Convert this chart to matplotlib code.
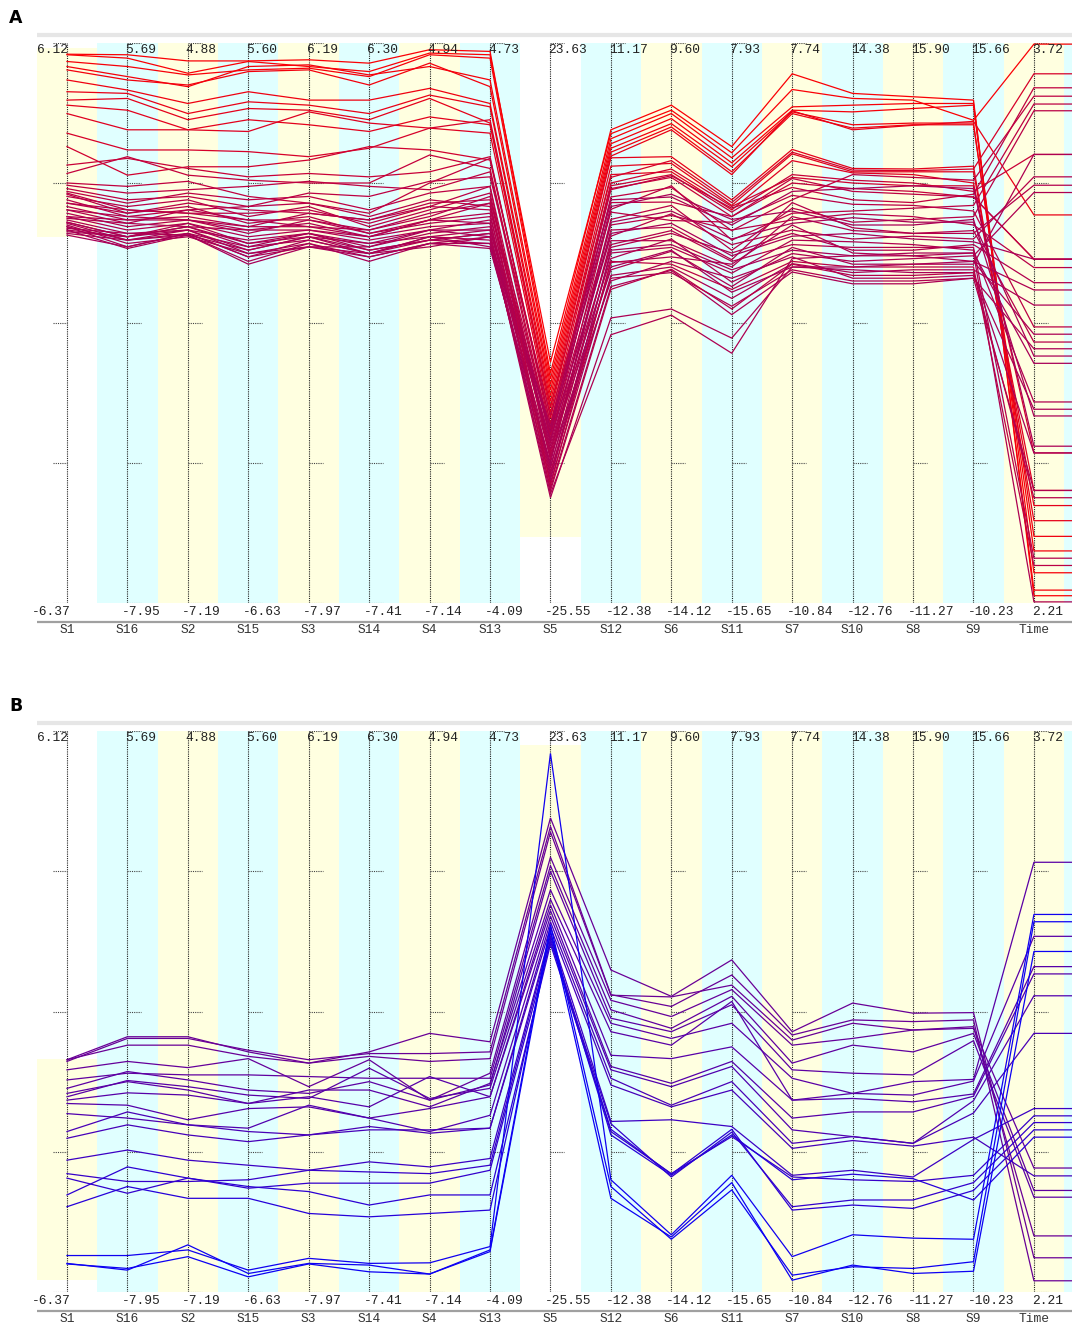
import matplotlib.pyplot as plt
from matplotlib.patches import Rectangle
from matplotlib.colors import LinearSegmentedColormap

axis_names = ['S1', 'S16', 'S2', 'S15', 'S3', 'S14', 'S4', 'S13', 'S5',
              'S12', 'S6', 'S11', 'S7', 'S10', 'S8', 'S9', 'Time']
axis_max = ['6.12', '5.69', '4.88', '5.60', '6.19', '6.30', '4.94', '4.73', '23.63',
            '11.17', '9.60', '7.93', '7.74', '14.38', '15.90', '15.66', '3.72']
axis_min = ['-6.37', '-7.95', '-7.19', '-6.63', '-7.97', '-7.41', '-7.14', '-4.09', '-25.55',
            '-12.38', '-14.12', '-15.65', '-10.84', '-12.76', '-11.27', '-10.23', '2.21']

# brushed ranges (% of axis span) on S1 and S5, other axes fully shaded
a_brush = {0: (65.4, 99.1), 8: (11.8, 39.8)}
b_brush = {0: (2.1, 41.5), 8: (66.3, 97.5)}

# each line: position on every axis, in % of that axis' min..max span
# order: S1 S16 S2 S15 S3 S14 S4 S13 S5 S12 S6 S11 S7 S10 S8 S9 Time
a_lines = [
    [98.0, 97.9, 96.8, 96.8, 97.0, 96.4, 98.8, 98.5, 41.0, 84.5, 88.9, 81.5, 94.5, 91.0, 90.4, 89.8, 1.3],
    [97.9, 97.3, 94.6, 96.7, 95.8, 94.9, 98.2, 97.9, 43.0, 83.8, 88.0, 80.4, 91.7, 90.1, 89.8, 86.2, 99.8],
    [96.7, 95.8, 94.3, 95.2, 95.5, 94.0, 97.9, 97.3, 40.0, 82.9, 87.4, 79.5, 88.6, 88.9, 89.2, 89.2, 5.4],
    [95.8, 94.0, 92.2, 95.8, 96.1, 94.3, 95.8, 93.4, 39.0, 82.0, 86.5, 78.6, 88.0, 87.7, 88.3, 88.9, 2.3],
    [95.2, 93.4, 92.5, 94.9, 95.2, 92.5, 96.4, 92.2, 38.0, 81.2, 85.6, 77.9, 87.7, 85.4, 85.7, 85.7, 9.3],
    [93.4, 91.6, 89.2, 91.3, 89.8, 89.8, 91.9, 89.2, 37.0, 80.5, 85.0, 77.0, 87.4, 84.8, 85.4, 85.4, 11.9],
    [91.3, 91.0, 87.4, 89.5, 88.9, 87.4, 90.7, 88.6, 36.0, 79.8, 84.5, 76.5, 87.9, 84.5, 85.3, 86.0, 69.3],
    [89.8, 90.1, 86.3, 88.3, 88.0, 86.3, 90.1, 85.7, 35.0, 79.5, 79.7, 72.0, 81.0, 77.6, 77.5, 78.0, 14.7],
    [88.9, 88.0, 84.5, 86.3, 85.4, 84.2, 86.8, 85.4, 34.0, 78.0, 78.5, 71.0, 80.2, 77.0, 77.0, 77.0, 17.4],
    [87.4, 84.5, 84.5, 84.2, 87.7, 85.7, 84.8, 83.9, 33.0, 76.5, 77.0, 70.2, 79.0, 76.8, 76.5, 75.0, 20.1],
    [83.9, 80.9, 80.9, 80.6, 79.7, 81.2, 84.8, 86.3, 35.0, 76.0, 79.0, 71.5, 80.5, 77.3, 77.2, 77.5, 94.5],
    [81.5, 76.4, 77.9, 77.9, 79.1, 81.5, 80.9, 79.1, 32.0, 75.0, 77.5, 70.8, 76.0, 75.0, 74.5, 74.5, 26.8],
    [78.2, 79.4, 77.6, 76.1, 76.7, 76.1, 77.0, 79.7, 31.0, 74.5, 76.5, 69.8, 76.5, 75.5, 75.0, 73.5, 80.1],
    [76.7, 79.7, 76.4, 75.5, 75.0, 75.0, 80.0, 77.6, 30.0, 74.0, 76.0, 69.0, 75.0, 74.0, 73.5, 72.5, 61.4],
    [75.0, 74.4, 75.3, 72.6, 71.4, 69.6, 75.0, 79.4, 32.0, 73.8, 76.3, 70.5, 74.2, 72.0, 71.5, 73.0, 92.0],
    [74.6, 73.2, 73.8, 74.4, 75.3, 74.4, 73.8, 77.0, 29.0, 72.5, 74.2, 66.5, 72.0, 76.5, 76.0, 75.5, 90.5],
    [74.0, 72.0, 72.6, 70.8, 73.2, 72.6, 75.3, 76.1, 33.5, 71.5, 71.6, 69.0, 75.8, 73.5, 73.0, 72.5, 61.4],
    [73.5, 71.4, 73.2, 72.0, 72.6, 70.2, 73.2, 74.4, 27.0, 70.3, 74.5, 64.8, 69.6, 70.0, 70.5, 71.0, 89.1],
    [73.0, 69.6, 71.4, 70.2, 69.6, 68.4, 71.4, 72.0, 31.0, 69.8, 68.3, 68.0, 72.8, 71.2, 71.0, 70.0, 49.3],
    [72.6, 70.8, 72.0, 69.0, 70.8, 67.2, 70.2, 73.2, 25.5, 68.5, 71.0, 63.0, 70.5, 68.0, 68.5, 69.0, 87.9],
    [72.0, 69.0, 70.2, 70.8, 71.4, 69.0, 72.0, 70.8, 30.0, 67.5, 69.2, 66.6, 68.4, 69.5, 69.0, 67.5, 59.9],
    [71.4, 70.2, 69.6, 68.4, 68.4, 66.6, 69.0, 72.6, 26.5, 66.6, 67.1, 61.3, 71.5, 67.0, 66.0, 66.5, 46.6],
    [70.8, 68.4, 69.0, 67.2, 69.6, 68.4, 70.8, 70.2, 29.5, 65.5, 69.5, 64.0, 66.6, 65.0, 65.5, 65.0, 76.1],
    [70.2, 67.8, 70.2, 68.4, 67.2, 65.4, 68.4, 69.6, 24.0, 64.7, 64.7, 60.0, 69.0, 66.5, 66.0, 66.0, 74.6],
    [69.6, 67.2, 68.4, 66.0, 68.4, 66.0, 67.8, 69.0, 28.5, 63.5, 66.0, 62.5, 66.0, 63.0, 63.0, 64.0, 57.2],
    [69.0, 66.6, 67.8, 65.4, 66.6, 64.8, 66.6, 68.4, 23.0, 62.5, 63.5, 58.9, 64.8, 64.5, 64.0, 63.0, 35.9],
    [68.7, 67.8, 67.2, 66.6, 67.8, 65.4, 67.2, 67.8, 28.0, 61.5, 65.0, 57.3, 62.4, 61.0, 61.5, 62.0, 73.3],
    [68.4, 66.0, 66.6, 64.8, 66.0, 63.6, 66.0, 67.2, 22.5, 60.8, 61.8, 60.5, 67.5, 62.5, 62.0, 61.0, 55.9],
    [68.0, 65.4, 67.8, 64.2, 65.4, 64.2, 65.4, 66.6, 27.5, 59.5, 62.8, 56.5, 63.5, 60.5, 60.5, 60.5, 80.1],
    [67.8, 64.8, 66.0, 63.6, 64.8, 62.4, 64.8, 66.0, 21.5, 58.5, 60.0, 54.4, 60.6, 59.0, 59.5, 59.5, 53.2],
    [67.5, 64.2, 65.4, 62.4, 64.2, 61.8, 64.2, 65.4, 26.0, 57.5, 61.0, 58.0, 61.8, 58.0, 58.0, 58.5, 34.6],
    [67.2, 63.6, 66.0, 61.8, 63.6, 62.4, 65.4, 64.8, 20.5, 56.5, 59.4, 51.5, 59.1, 57.0, 57.0, 58.0, 45.4],
    [66.9, 66.0, 65.7, 63.0, 65.4, 63.0, 64.8, 64.2, 31.5, 72.0, 72.5, 67.5, 73.5, 74.0, 74.5, 74.0, 28.0],
    [66.6, 63.3, 65.7, 61.0, 64.2, 61.0, 64.2, 63.3, 25.0, 68.0, 70.0, 65.0, 67.8, 68.8, 68.0, 68.0, 44.1],
    [66.3, 65.4, 66.6, 62.4, 63.6, 63.6, 66.6, 65.4, 29.0, 66.0, 67.8, 62.0, 65.5, 66.0, 65.0, 64.5, 61.4],
    [66.0, 64.8, 65.7, 60.5, 63.6, 61.8, 64.2, 64.2, 22.0, 63.0, 64.0, 59.5, 63.0, 62.0, 62.5, 62.5, 42.8],
    [65.7, 63.6, 66.0, 61.8, 64.8, 62.4, 65.4, 63.6, 24.5, 60.0, 63.0, 55.5, 60.0, 59.5, 59.0, 59.0, 26.8],
    [66.6, 65.4, 67.2, 63.6, 66.0, 64.2, 66.6, 66.6, 30.5, 70.8, 73.0, 68.5, 70.0, 67.5, 67.5, 68.5, 33.4],
    [70.2, 69.0, 68.4, 67.2, 67.2, 66.6, 69.6, 71.4, 26.0, 64.0, 66.5, 61.0, 64.0, 63.5, 63.5, 63.5, 8.0],
    [73.2, 70.2, 69.6, 69.6, 70.2, 67.8, 70.8, 74.4, 21.0, 61.0, 60.5, 56.0, 61.0, 60.0, 60.0, 60.0, 6.7],
    [69.0, 68.4, 68.4, 66.6, 66.6, 65.4, 68.4, 67.8, 23.5, 58.0, 59.0, 53.0, 59.5, 57.5, 57.5, 58.0, 20.1],
    [71.4, 69.6, 70.8, 67.8, 69.0, 66.0, 68.4, 71.4, 20.0, 56.0, 59.6, 52.5, 60.5, 58.5, 58.5, 59.0, 18.8],
    [67.2, 64.8, 66.6, 63.0, 65.4, 62.4, 63.6, 65.4, 18.8, 50.9, 52.5, 47.3, 60.0, 60.0, 60.5, 61.0, 48.0],
    [68.0, 65.4, 67.2, 64.2, 66.0, 63.0, 64.8, 66.0, 19.5, 47.9, 51.4, 44.6, 61.5, 62.0, 62.0, 62.5, 0.2],
]

b_lines = [
    [41.4, 45.5, 45.5, 42.8, 40.8, 42.8, 46.1, 44.6, 84.5, 57.4, 52.7, 59.2, 46.4, 51.5, 49.7, 49.8, 6.1],
    [41.1, 45.2, 45.2, 43.1, 41.4, 42.5, 42.5, 42.8, 83.0, 53.0, 50.9, 56.5, 45.8, 48.5, 48.2, 48.5, 2.0],
    [41.4, 44.0, 44.0, 42.0, 40.8, 42.0, 41.1, 41.6, 82.0, 52.9, 52.6, 54.7, 44.9, 47.9, 46.7, 47.3, 10.0],
    [39.6, 41.1, 40.0, 41.6, 36.6, 41.4, 34.2, 39.0, 77.5, 52.0, 49.1, 53.9, 44.0, 45.2, 46.7, 47.0, 22.1],
    [37.8, 39.0, 38.7, 38.7, 38.4, 38.1, 38.1, 38.1, 76.0, 50.3, 47.0, 52.7, 40.8, 44.0, 42.8, 46.1, 18.1],
    [36.3, 39.3, 37.8, 36.0, 35.4, 37.5, 34.2, 36.9, 75.0, 48.8, 46.4, 51.2, 39.6, 39.0, 38.7, 44.8, 16.9],
    [35.4, 37.5, 36.0, 33.6, 36.0, 36.0, 33.0, 37.2, 71.7, 47.9, 45.2, 47.9, 38.1, 35.4, 37.5, 37.9, 76.6],
    [34.8, 37.7, 36.6, 35.1, 34.5, 39.9, 34.5, 36.3, 70.0, 46.4, 44.0, 51.8, 34.2, 35.4, 35.1, 37.6, 63.4],
    [34.2, 35.5, 35.1, 33.6, 34.8, 33.0, 38.4, 34.8, 69.0, 42.2, 41.6, 43.7, 34.2, 34.5, 33.9, 35.3, 58.0],
    [33.6, 33.3, 30.7, 32.7, 33.0, 31.0, 32.7, 34.8, 68.0, 40.2, 37.2, 41.1, 31.0, 32.1, 32.1, 34.9, 56.7],
    [31.8, 31.0, 29.8, 29.2, 33.3, 31.0, 28.6, 31.5, 67.0, 39.6, 36.6, 40.2, 28.9, 27.7, 26.5, 34.1, 52.8],
    [28.6, 32.1, 29.8, 28.6, 28.0, 29.5, 28.3, 29.2, 66.0, 38.1, 33.3, 37.5, 26.5, 27.7, 26.5, 31.9, 46.1],
    [27.4, 29.8, 28.0, 26.8, 28.0, 28.9, 28.9, 29.2, 65.0, 36.9, 33.0, 36.0, 25.6, 27.0, 26.0, 27.6, 20.7],
    [23.5, 25.3, 23.5, 22.6, 21.7, 23.2, 22.3, 23.8, 64.0, 30.4, 30.7, 29.5, 20.8, 21.7, 20.5, 27.2, 32.7],
    [21.1, 19.7, 19.7, 20.0, 21.7, 21.4, 21.1, 22.6, 63.5, 28.6, 21.1, 27.7, 20.5, 20.0, 19.7, 20.8, 31.4],
    [20.3, 17.6, 20.3, 18.5, 19.4, 19.4, 19.4, 21.7, 62.5, 30.0, 20.5, 28.5, 15.2, 16.4, 16.4, 19.5, 30.2],
    [17.3, 22.3, 20.3, 18.8, 17.9, 15.5, 17.3, 17.3, 62.0, 29.0, 21.0, 29.0, 14.6, 15.5, 14.9, 18.1, 28.9],
    [15.2, 18.8, 16.7, 16.7, 14.0, 13.4, 14.0, 14.6, 63.0, 28.0, 20.8, 28.0, 20.0, 21.0, 20.2, 16.4, 27.6],
    [6.5, 6.5, 7.5, 3.9, 6.0, 5.1, 5.2, 8.1, 96.0, 20.0, 10.2, 20.8, 6.3, 10.2, 9.6, 9.4, 67.3],
    [5.1, 3.9, 8.4, 3.3, 5.1, 4.8, 3.2, 7.5, 65.5, 18.8, 9.4, 18.2, 3.0, 4.5, 4.2, 5.4, 66.0],
    [5.0, 4.2, 6.3, 2.7, 5.0, 3.6, 3.2, 7.2, 64.5, 16.7, 9.8, 19.5, 2.1, 4.8, 3.3, 3.7, 60.7],
]

W, H = 1084, 1333
MONO = ['Liberation Mono', 'DejaVu Sans Mono']
line_cmap = LinearSegmentedColormap.from_list('s1', ['#0000ff', '#ff0000'])


def draw_panel(fig, top, bottom, letter, lines, brush):
    ax = fig.add_axes([37 / W, 1 - bottom / H, 1035 / W, (bottom - top) / H])
    right = 16.63
    ax.set_xlim(-0.496, right)
    ax.set_ylim(0, 100)
    ax.axis('off')
    px = 1 / 60.44
    py = 100 / (bottom - top)
    n = len(axis_names)

    # shaded columns
    for i in range(n):
        lo, hi = brush.get(i, (0, 100))
        col = '#ffffe0' if i % 2 == 0 else '#e0ffff'
        ax.add_patch(Rectangle((i - 0.5, lo), 1, hi - lo, color=col, lw=0, zorder=0))
    ax.add_patch(Rectangle((n - 0.5, 0), right - n + 0.5, 100, color='#e0ffff', lw=0, zorder=0))

    # axes with ticks
    for i in range(n):
        ax.plot([i, i], [0, 100], color='#222222', lw=0.8, ls=(0, (1, 1)), zorder=1)
        for t in (0, 25, 50, 75, 100):
            xs = [i - 14 * px, i] if i == 0 else [i, i + 14 * px]
            ax.plot(xs, [t, t], color='#444444', lw=0.8, ls=(0, (1, 1)), zorder=1)

    # data lines
    xs = list(range(n)) + [right]
    for row in lines:
        ax.plot(xs, row + [row[-1]], color=line_cmap(row[0] / 100), lw=0.9,
                zorder=3, solid_joinstyle='miter')

    # frame lines
    ax.plot([-0.496, right], [100 + 8 * py] * 2, color='#e6e6e6', lw=3,
            clip_on=False, solid_capstyle='butt')
    ax.plot([-0.496, right], [-19 * py] * 2, color='#a0a0a0', lw=1.6,
            clip_on=False, solid_capstyle='butt')

    # labels
    for i in range(n):
        if i == 0:
            ax.text(i + 1 * px, 100 - 7 * py, axis_max[i], ha='right', va='center',
                    family=MONO, fontsize=9.3, color='#222222', zorder=4)
            ax.text(i + 4 * px, -9 * py, axis_min[i], ha='right', va='center',
                    family=MONO, fontsize=9.3, color='#222222', clip_on=False)
        else:
            ax.text(i - 2 * px, 100 - 7 * py, axis_max[i], ha='left', va='center',
                    family=MONO, fontsize=9.3, color='#222222', zorder=4)
            dx = 2 if i == n - 1 else 5.5
            ax.text(i - dx * px, -9 * py, axis_min[i], ha='left', va='center',
                    family=MONO, fontsize=9.3, color='#222222', clip_on=False)
        ax.text(i, -27 * py, axis_names[i], ha='center', va='center',
                family=MONO, fontsize=9.3, color='#333333', clip_on=False)

    fig.text(16 / W, 1 - (top - 25) / H, letter, fontsize=12.5, fontweight='bold',
             ha='center', va='center', family='DejaVu Sans')


fig = plt.figure(figsize=(W / 100, H / 100), dpi=100)
draw_panel(fig, 43, 603, 'A', a_lines, a_brush)
draw_panel(fig, 731, 1292, 'B', b_lines, b_brush)
fig.savefig('out.png', dpi=100, facecolor='white')
